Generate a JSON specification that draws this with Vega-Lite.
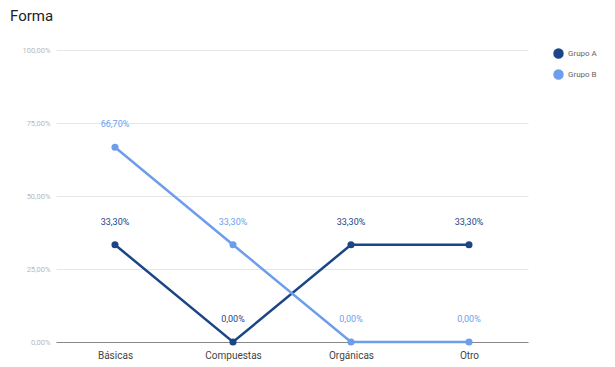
{
  "$schema": "https://vega.github.io/schema/vega-lite/v6.json",
  "width": 472,
  "height": 292,
  "autosize": "none",
  "padding": {"left": 56, "top": 50, "right": 87, "bottom": 25},
  "config": {
    "locale": {"number": {"decimal": ",", "thousands": ".", "grouping": [3], "currency": ["", " €"]}},
    "view": {"stroke": null},
    "font": "Roboto"
  },
  "title": {"text": "Forma", "anchor": "start", "frame": "group", "dx": -46, "offset": 22, "fontSize": 15, "fontWeight": "normal", "color": "#222222", "font": "Roboto"},
  "data": {"values": [
    {"categoria": "Básicas", "grupo": "Grupo A", "valor": 0.333},
    {"categoria": "Compuestas", "grupo": "Grupo A", "valor": 0.0},
    {"categoria": "Orgánicas", "grupo": "Grupo A", "valor": 0.333},
    {"categoria": "Otro", "grupo": "Grupo A", "valor": 0.333},
    {"categoria": "Básicas", "grupo": "Grupo B", "valor": 0.667},
    {"categoria": "Compuestas", "grupo": "Grupo B", "valor": 0.333},
    {"categoria": "Orgánicas", "grupo": "Grupo B", "valor": 0.0},
    {"categoria": "Otro", "grupo": "Grupo B", "valor": 0.0}
  ]},
  "encoding": {
    "x": {"field": "categoria", "type": "nominal", "sort": ["Básicas", "Compuestas", "Orgánicas", "Otro"], "title": null,
      "axis": {"labelAngle": 0, "labelFontSize": 10, "labelColor": "#444444", "labelPadding": 8, "ticks": false, "domainColor": "#888888", "domainWidth": 1.2, "labelFont": "Roboto"}},
    "y": {"field": "valor", "type": "quantitative", "scale": {"domain": [0, 1]}, "title": null,
      "axis": {"values": [0, 0.25, 0.5, 0.75, 1], "format": ".2%", "labelFontSize": 7.5, "labelColor": "#b8b8b8", "labelPadding": 6, "ticks": false, "domain": false, "gridColor": "#e6e6e6", "labelFont": "Roboto"}},
    "color": {"field": "grupo", "type": "nominal", "scale": {"domain": ["Grupo A", "Grupo B"], "range": ["#1c4587", "#6d9eeb"]},
      "legend": {"title": null, "orient": "none", "legendX": 497, "legendY": -2, "symbolType": "circle", "symbolSize": 80, "labelFontSize": 8, "labelColor": "#666666", "rowPadding": 6, "labelFont": "Roboto", "symbolOpacity": 1}}
  },
  "layer": [
    {"mark": {"type": "line", "strokeWidth": 2.5}},
    {"mark": {"type": "point", "filled": true, "size": 50, "opacity": 1}},
    {"mark": {"type": "text", "dy": -23, "fontSize": 9, "baseline": "middle"},
      "encoding": {"text": {"field": "valor", "type": "quantitative", "format": ".2%"}}}
  ]
}
